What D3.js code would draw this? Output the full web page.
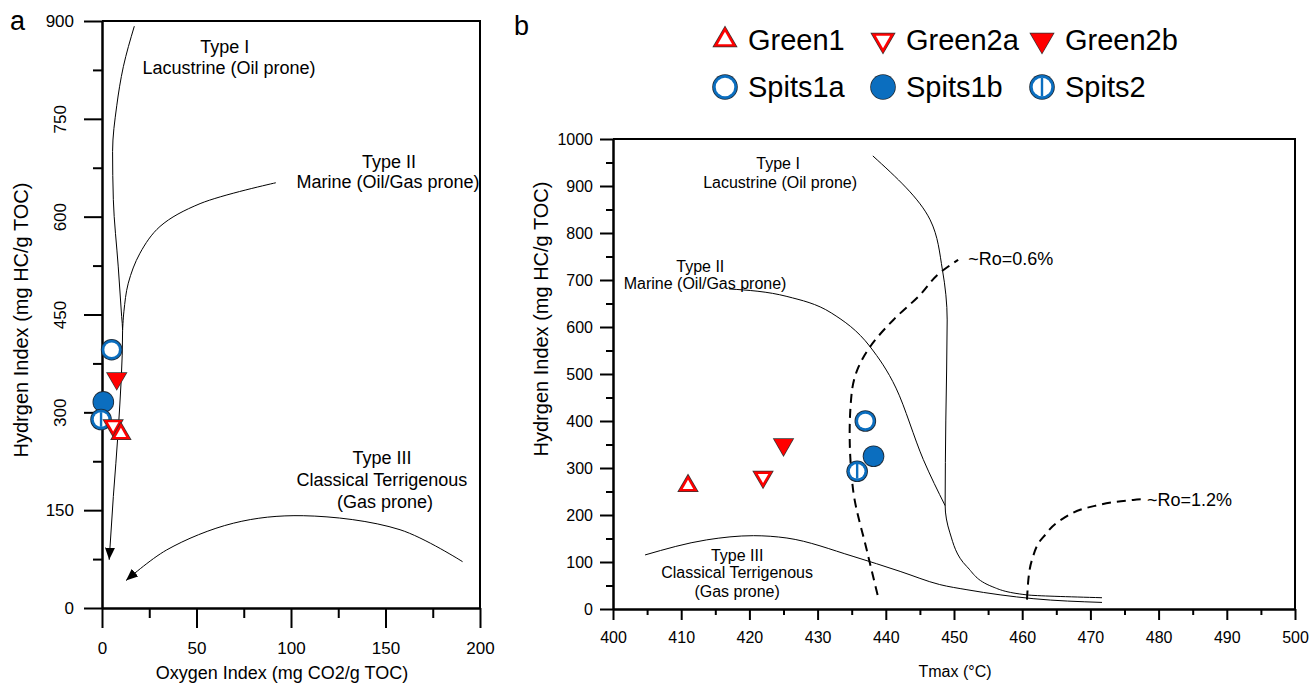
<!DOCTYPE html>
<html>
<head>
<meta charset="utf-8">
<script src="https://cdn.jsdelivr.net/npm/d3@7"></script>
<style>
  body { margin: 0; background: #fff; }
  svg { display: block; font-family: "Liberation Sans", Arial, sans-serif; }
</style>
</head>
<body>
<svg id="chart" width="1311" height="684"></svg>
<script>
// --- samples ---
const samples = ["Green1", "Green2a", "Green2b", "Spits1a", "Spits1b", "Spits2"];
const oxygenIndex = [10, 5.9, 7.8, 5.1, 0.7, -0.5];
const hiA = [267, 280, 352, 396, 316, 289];
const tmax = [411, 422, 425, 437, 438.2, 435.8];
const hiB = [262, 281, 350, 400, 325, 293];

// --- ticks ---
const oiTicks = [0, 50, 100, 150, 200];
const oiMinor = [25, 75, 125, 175];
const hiTicksA = [0, 150, 300, 450, 600, 750, 900];
const hiMinorA = [75, 225, 375, 525, 675, 825];
const tmaxTicks = [400, 410, 420, 430, 440, 450, 460, 470, 480, 490, 500];
const tmaxMinor = [405, 415, 425, 435, 445, 455, 465, 475, 485, 495];
const hiTicksB = [0, 100, 200, 300, 400, 500, 600, 700, 800, 900, 1000];
const hiMinorB = [50, 150, 250, 350, 450, 550, 650, 750, 850, 950];

// --- kerogen type curves, panel a: [OI, HI] ---
const typeIA = [[17.1, 892], [11.3, 830], [7.8, 770], [5.6, 700], [6.0, 626], [8.6, 523], [10.4, 447], [10.9, 426], [8.6, 273], [6.0, 171], [3.8, 74]];
const typeIIA = [[92, 652], [51.9, 620], [30.7, 585], [20.1, 544], [13.9, 498], [11.6, 455], [10.9, 426]];
const typeIIIA = [[190.8, 71], [157.7, 120], [106.5, 141.5], [69.5, 130], [34.2, 89], [12.7, 42]];

// --- panel b: [Tmax, HI] ---
const typeIB = [[471.7, 24], [460.7, 30], [455.7, 47], [451.9, 90], [449.4, 162], [448.7, 221], [448.8, 402], [449.0, 615], [448.3, 722], [446.5, 828], [438.1, 964]];
const typeIIB = [[417.0, 681], [425.5, 665], [432.0, 630], [437.7, 558], [441.5, 470], [445.5, 318], [448.7, 220]];
const typeIIIB = [[404.7, 115], [413.7, 147], [420.6, 156], [425.5, 151], [435.2, 112], [442.1, 80], [447.9, 52], [451.9, 41], [461.6, 22], [471.7, 14]];
const ro06 = [[438.8, 30], [437.2, 126], [435.2, 254], [434.7, 375], [435.0, 460], [436.0, 515], [437.7, 558], [441.1, 615], [445.0, 668], [447.9, 715], [450.6, 743]];
const ro12 = [[460.7, 20], [460.9, 62], [461.6, 112], [463.6, 162], [466.5, 197], [471.4, 222], [476.3, 232], [478.0, 234]];

const RED = "#ff0000";
const BLUE = "#0b6ebf";
const EDGE = "#1e2a36";

const svg = d3.select("#chart");

// arrow head
svg.append("defs").append("marker")
    .attr("id", "arrow")
    .attr("viewBox", "0 0 12 10")
    .attr("refX", 12)
    .attr("refY", 5)
    .attr("markerWidth", 12)
    .attr("markerHeight", 10)
    .attr("markerUnits", "userSpaceOnUse")
    .attr("orient", "auto")
    .append("path")
    .attr("d", "M0,0L12,5L0,10Z")
    .attr("fill", "#000");

// draws one sample symbol
function drawSymbol(g, name, cx, cy, scale) {
    const k = scale || 1;
    const m = g.append("g").attr("transform", `translate(${cx},${cy})`);
    if (name.startsWith("Green")) {
        const tri = side => d3.symbol(d3.symbolTriangle, Math.sqrt(3) / 4 * side * side)();
        const s = 19 * k;
        const t = m.append("g").attr("transform", name === "Green1" ? null : "rotate(180)");
        t.append("path").attr("d", tri(s + 2.5)).attr("fill", "#333");
        t.append("path").attr("d", tri(s)).attr("fill", RED);
        if (name !== "Green2b") t.append("path").attr("d", tri(s - 8.5)).attr("fill", "#fff");
    } else {
        const r = 10 * k;
        m.append("circle").attr("r", r + 0.8).attr("fill", EDGE);
        m.append("circle").attr("r", r).attr("fill", BLUE);
        if (name !== "Spits1b") {
            m.append("circle").attr("r", r - 2.7).attr("fill", "#fff");
            if (name === "Spits2") {
                m.append("line")
                    .attr("y1", -(r - 2.7)).attr("y2", r - 2.7)
                    .attr("stroke", BLUE).attr("stroke-width", 2.4);
            }
        }
    }
}

function styleAxis(g, fontSize) {
    g.select(".domain").attr("stroke-width", 2.5);
    g.selectAll(".tick line").attr("stroke-width", 2);
    g.selectAll("text").attr("font-size", fontSize).attr("fill", "#000")
        .attr("font-family", "Liberation Sans, Arial, sans-serif");
}

// ================= panel a =================
const xa = d3.scaleLinear().domain([0, 200]).range([102, 480]);
const ya = d3.scaleLinear().domain([0, 900]).range([608, 21]);
const pa = svg.append("g");

// frame top / right
pa.append("path")
    .attr("d", `M${xa(0)},${ya(900)}H${xa(200)}V${ya(0)}`)
    .attr("fill", "none").attr("stroke", "#000").attr("stroke-width", 2);

pa.append("g").attr("transform", `translate(0,${ya(0)})`)
    .call(d3.axisBottom(xa).tickValues(oiMinor).tickSize(10).tickFormat(""))
    .call(g => { g.select(".domain").remove(); g.selectAll("line").attr("stroke-width", 2); });
pa.append("g").attr("transform", `translate(${xa(0)},0)`)
    .call(d3.axisLeft(ya).tickValues(hiMinorA).tickSize(9).tickFormat(""))
    .call(g => { g.select(".domain").remove(); g.selectAll("line").attr("stroke-width", 2); });

const axA = pa.append("g").attr("transform", `translate(0,${ya(0)})`)
    .call(d3.axisBottom(xa).tickValues(oiTicks).tickSize(20).tickSizeOuter(0).tickPadding(14));
styleAxis(axA, 17);

const ayA = pa.append("g").attr("transform", `translate(${xa(0)},0)`)
    .call(d3.axisLeft(ya).tickValues(hiTicksA).tickSize(18).tickSizeOuter(0).tickPadding(10));
styleAxis(ayA, 17);
ayA.selectAll(".tick text")
    .filter(d => d >= 300 && d <= 750)
    .attr("x", 0).attr("dy", "0.35em")
    .attr("text-anchor", "middle")
    .attr("transform", "translate(-42,0) rotate(-90)");

const lineA = d3.line().x(d => xa(d[0])).y(d => ya(d[1]));
const addLineA = (data, c, arrow) => pa.append("path").datum(data)
    .attr("d", lineA.curve(c)(data))
    .attr("fill", "none").attr("stroke", "#000").attr("stroke-width", 1)
    .attr("marker-end", arrow ? "url(#arrow)" : null);
addLineA(typeIA, d3.curveMonotoneY, true);
addLineA(typeIIA, d3.curveCatmullRom.alpha(0.5));
addLineA(typeIIIA, d3.curveCatmullRom.alpha(0.5), true);

const labelA = (x, y, txt) => pa.append("text")
    .attr("x", xa(x)).attr("y", ya(y)).attr("dy", "0.35em")
    .attr("text-anchor", "middle").attr("font-size", 18).text(txt);
labelA(65, 860, "Type I");
labelA(67.2, 828, "Lacustrine (Oil prone)");
labelA(151.9, 685, "Type II");
labelA(151.3, 653, "Marine (Oil/Gas prone)");
labelA(148.1, 230, "Type III");
labelA(148.1, 196, "Classical Terrigenous");
labelA(149.7, 163, "(Gas prone)");

const orderA = [3, 4, 5, 2, 1, 0];
orderA.forEach(i => drawSymbol(pa, samples[i], xa(oxygenIndex[i]), ya(hiA[i])));

pa.append("text").attr("x", 282).attr("y", 679).attr("text-anchor", "middle")
    .attr("font-size", 18).text("Oxygen Index (mg CO2/g TOC)");
pa.append("text").attr("transform", "translate(28,320) rotate(-90)")
    .attr("text-anchor", "middle").attr("font-size", 20).text("Hydrgen Index (mg HC/g TOC)");
pa.append("text").attr("x", 10).attr("y", 30).attr("font-size", 27).text("a");

// ================= panel b =================
const xb = d3.scaleLinear().domain([400, 500]).range([613, 1295]);
const yb = d3.scaleLinear().domain([0, 1000]).range([609, 139]);
const pb = svg.append("g");

pb.append("path")
    .attr("d", `M${xb(400)},${yb(1000)}H${xb(500)}V${yb(0)}`)
    .attr("fill", "none").attr("stroke", "#000").attr("stroke-width", 2);

pb.append("g").attr("transform", `translate(0,${yb(0)})`)
    .call(d3.axisBottom(xb).tickValues(tmaxMinor).tickSize(6).tickFormat(""))
    .call(g => { g.select(".domain").remove(); g.selectAll("line").attr("stroke-width", 2); });
pb.append("g").attr("transform", `translate(${xb(400)},0)`)
    .call(d3.axisLeft(yb).tickValues(hiMinorB).tickSize(7).tickFormat(""))
    .call(g => { g.select(".domain").remove(); g.selectAll("line").attr("stroke-width", 2); });

const axB = pb.append("g").attr("transform", `translate(0,${yb(0)})`)
    .call(d3.axisBottom(xb).tickValues(tmaxTicks).tickFormat(d3.format("d"))
        .tickSize(11).tickSizeOuter(0).tickPadding(12));
styleAxis(axB, 16);
const ayB = pb.append("g").attr("transform", `translate(${xb(400)},0)`)
    .call(d3.axisLeft(yb).tickValues(hiTicksB).tickFormat(d3.format("d"))
        .tickSize(13).tickSizeOuter(0).tickPadding(7));
styleAxis(ayB, 16);

const lineB = d3.line().x(d => xb(d[0])).y(d => yb(d[1]));
const addLine = (data, c, dashed) => pb.append("path").datum(data)
    .attr("d", lineB.curve(c)(data))
    .attr("fill", "none").attr("stroke", "#000")
    .attr("stroke-width", dashed ? 2 : 1)
    .attr("stroke-dasharray", dashed ? "9,6" : null);
addLine(typeIB, d3.curveMonotoneY);
addLine(typeIIB, d3.curveMonotoneX);
addLine(typeIIIB, d3.curveMonotoneX);
addLine(ro06, d3.curveMonotoneY, true);
addLine(ro12, d3.curveMonotoneX, true);

const labelB = (x, y, txt, size, anchor) => pb.append("text")
    .attr("x", xb(x)).attr("y", yb(y)).attr("dy", "0.35em")
    .attr("text-anchor", anchor || "middle").attr("font-size", size || 16).text(txt);
labelB(424.2, 949, "Type I");
labelB(424.5, 908, "Lacustrine (Oil prone)");
labelB(412.8, 728, "Type II");
labelB(413.5, 692, "Marine (Oil/Gas prone)");
labelB(418.2, 115, "Type III");
labelB(418.2, 77, "Classical Terrigenous");
labelB(418.2, 37, "(Gas prone)");
labelB(452.1, 745, "~Ro=0.6%", 18, "start");
labelB(478.3, 233, "~Ro=1.2%", 18, "start");

const orderB = [0, 1, 2, 3, 4, 5];
orderB.forEach(i => drawSymbol(pb, samples[i], xb(tmax[i]), yb(hiB[i])));

pb.append("text").attr("x", 955).attr("y", 677).attr("text-anchor", "middle")
    .attr("font-size", 16).text("Tmax (°C)");
pb.append("text").attr("transform", "translate(548,319) rotate(-90)")
    .attr("text-anchor", "middle").attr("font-size", 20).text("Hydrgen Index (mg HC/g TOC)");
pb.append("text").attr("x", 514).attr("y", 35).attr("font-size", 27).text("b");

// ================= legend =================
const legendCols = [725, 883, 1042];
const legendRows = [40, 87];
const legend = svg.append("g");
samples.forEach((name, i) => {
    const cx = legendCols[i % 3];
    const cy = legendRows[Math.floor(i / 3)];
    drawSymbol(legend, name, cx, cy, 1.2);
    legend.append("text").attr("x", cx + 23).attr("y", cy + 10)
        .attr("font-size", 29).text(name);
});
</script>
</body>
</html>
